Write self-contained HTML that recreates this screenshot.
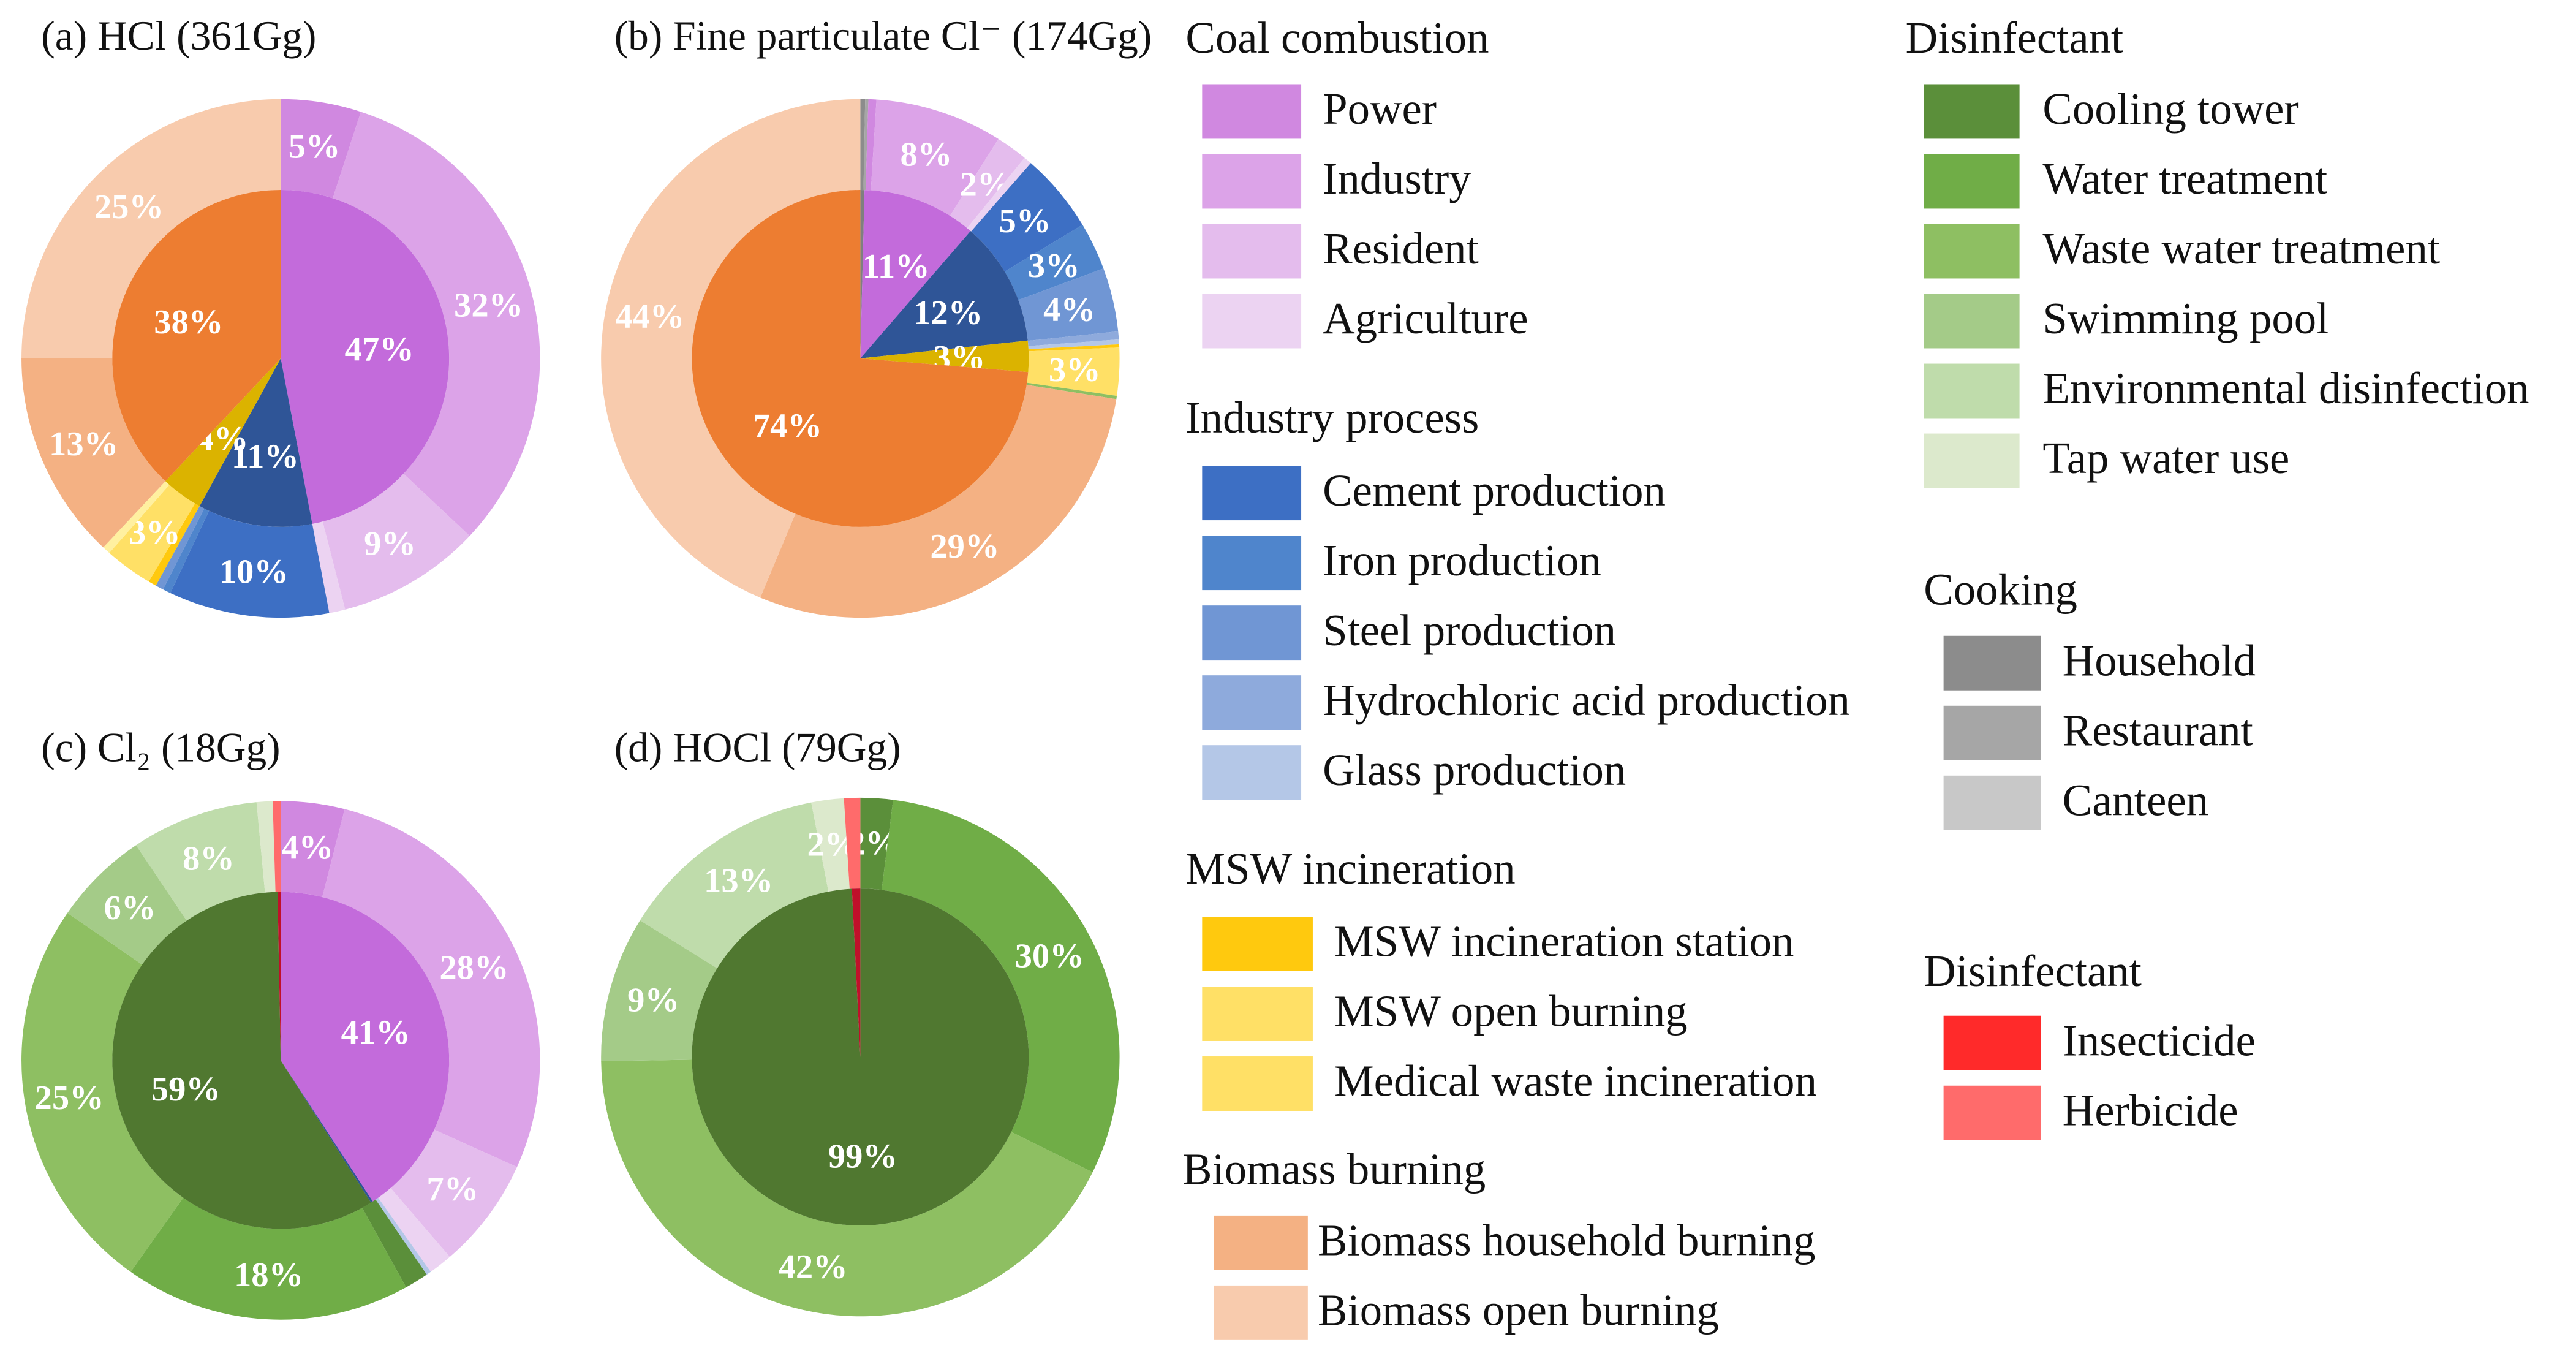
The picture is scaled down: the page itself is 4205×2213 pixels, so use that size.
<!DOCTYPE html>
<html><head><meta charset="utf-8">
<style>
html,body{margin:0;padding:0;background:#fff;}
svg{display:block;}
text{font-family:"Liberation Serif",serif;}
</style></head>
<body>
<svg id="chart" xmlns="http://www.w3.org/2000/svg" width="4205" height="2213" viewBox="0 0 1560 821" preserveAspectRatio="none">
<defs><clipPath id="clipD"><rect x="340" y="440" width="380" height="358"/></clipPath></defs>
<g id="pies"></g>
<g id="legend"></g>
</svg>
<script>
// ---- data ----
const pieTitles = ["(a) HCl (361Gg)", "(b) Fine particulate Cl\u207B (174Gg)", "(c) Cl\u2082 (18Gg)", "(d) HOCl (79Gg)"];
const innerA = [47, 11, 4, 38];
const innerAColors = ["#c36bdb", "#2f5597", "#dbb300", "#ed7d31"];
const outerA = [5, 32, 9, 1, 10, 0.5, 0.5, 0.5, 3, 0.5, 13, 25];
const outerAColors = ["#d088e0", "#dca3e8", "#e4bced", "#ecd3f2", "#3d6fc4", "#4f85cc", "#7096d4", "#ffc90e", "#ffe066", "#fff0a0", "#f4b183", "#f8cbad"];

const innerB = [0.4, 11, 12, 3, 74];
const innerBColors = ["#7f7f7f", "#c36bdb", "#2f5597", "#dbb300", "#ed7d31"];
const outerB = [0.3, 0.2, 0.5, 8, 2, 0.5, 5, 3, 4, 0.5, 0.3, 0.2, 3, 0.2, 29, 44];
const outerBColors = ["#8c8c8c", "#a6a6a6", "#d088e0", "#dca3e8", "#e4bced", "#ecd3f2", "#3d6fc4", "#4f85cc", "#7096d4", "#8eaadc", "#b4c7e7", "#ffc90e", "#ffe066", "#8ebf62", "#f4b183", "#f8cbad"];

const innerC = [41, 0.2, 59, 0.3];
const innerCColors = ["#c36bdb", "#2f5597", "#507830", "#c0102a"];
const outerC = [4, 28, 7, 1.5, 0.3, 1.5, 18, 25, 6, 8, 1, 0.5];
const outerCColors = ["#d088e0", "#dca3e8", "#e4bced", "#ecd3f2", "#b4c7e7", "#5b8f3a", "#70ad47", "#8ebf62", "#a4cb88", "#bfdcab", "#dce9cc", "#ff6b6b"];

const innerD = [99.2, 0.8];
const innerDColors = ["#507830", "#c0102a"];
const outerD = [2, 30, 42, 9, 13, 2, 1];
const outerDColors = ["#5b8f3a", "#70ad47", "#8ebf62", "#a4cb88", "#bfdcab", "#dce9cc", "#ff6b6b"];

const legendGroups = ["Coal combustion", "Industry process", "MSW incineration", "Biomass burning", "Disinfectant", "Cooking", "Disinfectant"];
const legendItems = [
 ["Power","Industry","Resident","Agriculture"],
 ["Cement production","Iron production","Steel production","Hydrochloric acid production","Glass production"],
 ["MSW incineration station","MSW open burning","Medical waste incineration"],
 ["Biomass household burning","Biomass open burning"],
 ["Cooling tower","Water treatment","Waste water treatment","Swimming pool","Environmental disinfection","Tap water use"],
 ["Household","Restaurant","Canteen"],
 ["Insecticide","Herbicide"]
];
const legendColors = [
 ["#d088e0","#dca3e8","#e4bced","#ecd3f2"],
 ["#3d6fc4","#4f85cc","#7096d4","#8eaadc","#b4c7e7"],
 ["#ffc90e","#ffe066","#ffe066"],
 ["#f4b183","#f8cbad"],
 ["#5b8f3a","#70ad47","#8ebf62","#a4cb88","#bfdcab","#dce9cc"],
 ["#8c8c8c","#a6a6a6","#c8c8c8"],
 ["#ff2a2a","#ff6b6b"]
];

// ---- layout ----
const NS = "http://www.w3.org/2000/svg";
const pieCenters = [[170,217],[521,217],[170,642],[521,640]];
const titlePos = [[25,30],[372,30],[25,461],[372,461]];
const R_OUT = 157, R_IN = 102;
const innerSets = [innerA, innerB, innerC, innerD];
const innerColorSets = [innerAColors, innerBColors, innerCColors, innerDColors];
const outerSets = [outerA, outerB, outerC, outerD];
const outerColorSets = [outerAColors, outerBColors, outerCColors, outerDColors];

function el(tag, attrs, parent){const e=document.createElementNS(NS,tag);for(const k in attrs)e.setAttribute(k,attrs[k]);parent.appendChild(e);return e;}
function pt(cx,cy,r,a){return [cx+r*Math.sin(a), cy-r*Math.cos(a)];}
function sector(cx,cy,r0,r1,a0,a1){
  const large=(a1-a0)>Math.PI?1:0;
  const p1=pt(cx,cy,r1,a0),p2=pt(cx,cy,r1,a1);
  if(r0<=0){return `M${cx},${cy}L${p1[0]},${p1[1]}A${r1},${r1} 0 ${large} 1 ${p2[0]},${p2[1]}Z`;}
  const p3=pt(cx,cy,r0,a1),p4=pt(cx,cy,r0,a0);
  return `M${p1[0]},${p1[1]}A${r1},${r1} 0 ${large} 1 ${p2[0]},${p2[1]}L${p3[0]},${p3[1]}A${r0},${r0} 0 ${large} 0 ${p4[0]},${p4[1]}Z`;
}
const piesG=document.getElementById('pies');
function drawRing(g,vals,cols,cx,cy,r0,r1,labelR,ringName){
  const total=vals.reduce((a,b)=>a+b,0);
  let acc=0;
  vals.forEach((v,i)=>{
    const a0=acc/total*2*Math.PI; acc+=v; const a1=acc/total*2*Math.PI;
    const p=el('path',{d:sector(cx,cy,r0,r1,a0,a1),fill:cols[i]},g);
    
    
    const pct=v/total*100;
    if(pct>=1.8){
      const m=pt(cx,cy,labelR,(a0+a1)/2);
      const t=el('text',{x:m[0],y:m[1]+7,'text-anchor':'middle','font-size':21,'font-weight':'bold',fill:'#fff'},g);
      t.textContent=Math.round(pct)+'%';
      
      
    }
  });
}
pieCenters.forEach((c,k)=>{
  const g=el('g',{},piesG);
  
  
  if(k===3) g.setAttribute('clip-path','url(#clipD)');
  drawRing(g,outerSets[k],outerColorSets[k],c[0],c[1],R_IN,R_OUT,130,'outer-'+'abcd'[k]);
  drawRing(g,innerSets[k],innerColorSets[k],c[0],c[1],0,R_IN,60,'inner-'+'abcd'[k]);
  const t=el('text',{x:titlePos[k][0],y:titlePos[k][1],'font-size':25,fill:'#111'},piesG);
  t.textContent=pieTitles[k];
  
  
});

const lgHeaderPos=[[718,32],[718,262],[718,535],[716,717],[1154,32],[1165,366],[1165,597]];
const lgSwX=[728,728,728,735,1165,1177,1177];
const lgSwW=[60,60,67,57,58,59,59];
const lgTextX=[801,801,808,798,1237,1249,1249];
const lgFirstY=[67,298,571,752,67,401,631];
const legG=document.getElementById('legend');
legendGroups.forEach((h,gi)=>{
  const t=el('text',{x:lgHeaderPos[gi][0],y:lgHeaderPos[gi][1],'font-size':27,fill:'#111'},legG);
  t.textContent=h;
  
  
  legendItems[gi].forEach((name,ii)=>{
    const cy=lgFirstY[gi]+ii*42.3;
    const r=el('rect',{x:lgSwX[gi],y:cy-16,width:lgSwW[gi],height:33,fill:legendColors[gi][ii]},legG);
    
    
    const tt=el('text',{x:lgTextX[gi],y:cy+8,'font-size':27,fill:'#111'},legG);
    tt.textContent=name;
    
    
  });
});
</script>
</body></html>
